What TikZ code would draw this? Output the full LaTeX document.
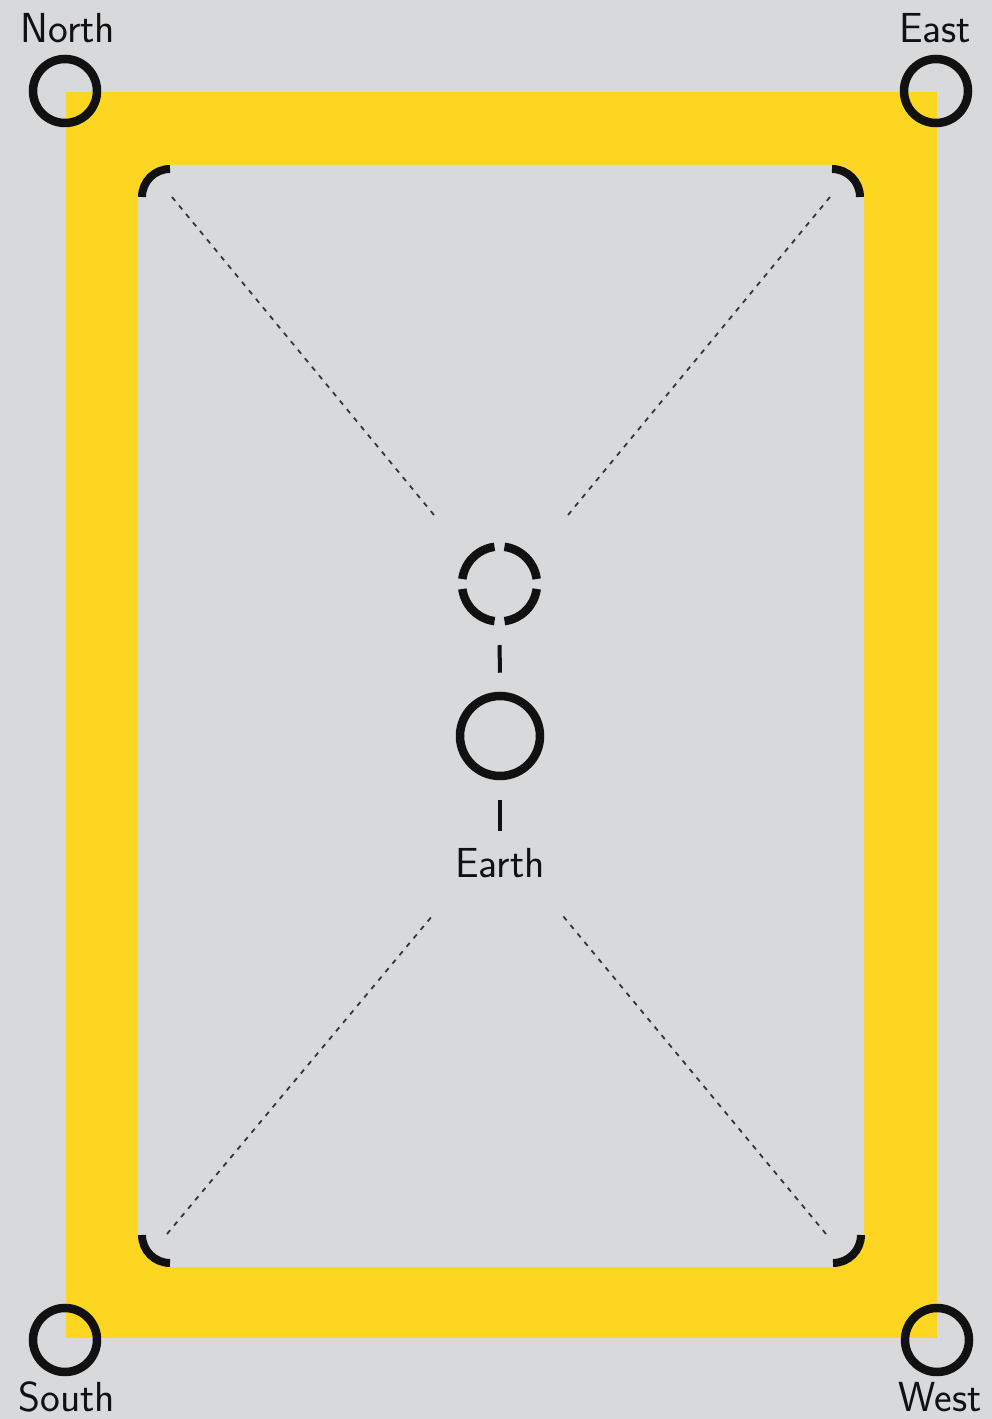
\documentclass[tikz,border=0pt]{standalone}
\definecolor{bggrey}{RGB}{216,217,219}
\definecolor{bandyellow}{RGB}{253,214,34}
\definecolor{ink}{RGB}{17,17,17}
\tikzset{
  ring/.style={circle, draw=ink, line width=8.5pt, inner sep=0pt, outer sep=4.25pt},
  cornerarc/.style={draw=ink, line width=8pt},
  stem/.style={draw=ink, line width=4pt},
  sightline/.style={draw=ink!85, line width=1.8pt, dash pattern=on 5pt off 6pt},
  label/.style={anchor=base, inner sep=0pt, text=ink, font=\sffamily\fontsize{42}{42}\selectfont}
}
\begin{document}
\begin{tikzpicture}[x=1pt,y=1pt]
  \useasboundingbox (0,0) rectangle (992,1419);
  \fill[bggrey] (0,0) rectangle (992,1419);
  % yellow frame
  \fill[bandyellow] (66,81) rectangle (937,1327);
  \fill[bggrey, rounded corners=32pt] (138,152) rectangle (864,1254);
  % corner arcs of inner field
  \draw[cornerarc] (170,1250) arc[start angle=90, end angle=180, radius=28];
  \draw[cornerarc] (860,1222) arc[start angle=0, end angle=90, radius=28];
  \draw[cornerarc] (833,156) arc[start angle=270, end angle=360, radius=28];
  \draw[cornerarc] (142,184) arc[start angle=180, end angle=270, radius=28];
  % corner rings and labels
  \node[ring, minimum size=64pt] (north) at (65,1328) {};
  \node[ring, minimum size=64pt] (east) at (936,1328) {};
  \node[ring, minimum size=64pt] (south) at (65,79) {};
  \node[ring, minimum size=64pt] (west) at (937,79) {};
  \node[label] (northlbl) at (68,1376) {North};
  \node[label] (eastlbl) at (935,1376) {East};
  \node[label] (southlbl) at (67,7) {South};
  \node[label] (westlbl) at (940,7) {West};
  % centre
  \node[ring, minimum size=75pt, dash pattern=on 48.9pt off 10pt, dash phase=53.9pt] (moon) at (499.5,835) {};
  \node[ring, minimum size=80pt] (earthring) at (500,683) {};
  \node[label] (earth) at (500,541) {Earth};
  \draw[stem, shorten <=19.5pt, shorten >=19pt] (moon.south) -- (earthring.north);
  \draw[stem, shorten <=20pt, shorten >=18pt] (earthring.south) -- (earth.north);
  % sight lines
  \coordinate (tlA) at (172,1222); \coordinate (tlB) at (434,904);
  \coordinate (trA) at (830,1222); \coordinate (trB) at (568,904);
  \coordinate (blA) at (167,185);  \coordinate (blB) at (433,504);
  \coordinate (brA) at (826,185);  \coordinate (brB) at (563,503);
  \draw[sightline] (tlA) -- (tlB);
  \draw[sightline] (trA) -- (trB);
  \draw[sightline] (blA) -- (blB);
  \draw[sightline] (brA) -- (brB);
\end{tikzpicture}
\end{document}
